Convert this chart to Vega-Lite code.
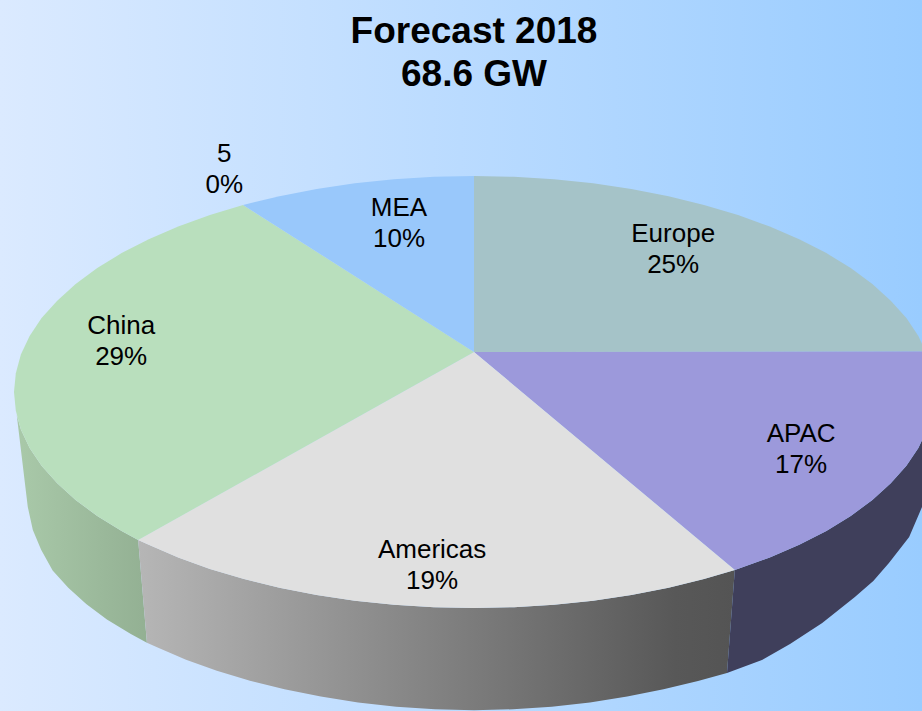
{"$schema":"https://vega.github.io/schema/vega-lite/v6.json","width":922,"height":711,"padding":0,"autosize":{"type":"none"},"background":"#99ccff","view":{"stroke":null},
"title":{"text":["Forecast 2018","68.6 GW"],"font":"Liberation Sans","fontSize":37,"fontWeight":"bold","color":"#000000","anchor":"middle","dx":13,"dy":94,"lineHeight":43,"offset":0},
"datasets":{"outline":[
{"s":"Americas side","i":0,"x":0.567,"y":-0.824},{"s":"Americas side","i":1,"x":0.5,"y":-0.866},{"s":"Americas side","i":2,"x":0.423,"y":-0.906},{"s":"Americas side","i":3,"x":0.342,"y":-0.94},{"s":"Americas side","i":4,"x":0.259,"y":-0.966},{"s":"Americas side","i":5,"x":0.174,"y":-0.985},{"s":"Americas side","i":6,"x":0.087,"y":-0.996},{"s":"Americas side","i":7,"x":0,"y":-1},{"s":"Americas side","i":8,"x":-0.087,"y":-0.996},{"s":"Americas side","i":9,"x":-0.174,"y":-0.985},{"s":"Americas side","i":10,"x":-0.259,"y":-0.966},{"s":"Americas side","i":11,"x":-0.342,"y":-0.94},{"s":"Americas side","i":12,"x":-0.423,"y":-0.906},{"s":"Americas side","i":13,"x":-0.5,"y":-0.866},{"s":"Americas side","i":14,"x":-0.574,"y":-0.819},{"s":"Americas side","i":15,"x":-0.643,"y":-0.766},{"s":"Americas side","i":16,"x":-0.707,"y":-0.707},{"s":"Americas side","i":17,"x":-0.73,"y":-0.685},
{"s":"Americas side","i":18,"x":-0.711,"y":-1.161},{"s":"Americas side","i":19,"x":-0.689,"y":-1.182},{"s":"Americas side","i":20,"x":-0.626,"y":-1.24},{"s":"Americas side","i":21,"x":-0.559,"y":-1.291},{"s":"Americas side","i":22,"x":-0.487,"y":-1.337},{"s":"Americas side","i":23,"x":-0.412,"y":-1.376},{"s":"Americas side","i":24,"x":-0.333,"y":-1.41},{"s":"Americas side","i":25,"x":-0.252,"y":-1.437},{"s":"Americas side","i":26,"x":-0.169,"y":-1.457},{"s":"Americas side","i":27,"x":-0.085,"y":-1.469},{"s":"Americas side","i":28,"x":0,"y":-1.473},{"s":"Americas side","i":29,"x":0.085,"y":-1.469},{"s":"Americas side","i":30,"x":0.169,"y":-1.457},{"s":"Americas side","i":31,"x":0.252,"y":-1.437},{"s":"Americas side","i":32,"x":0.333,"y":-1.41},{"s":"Americas side","i":33,"x":0.412,"y":-1.376},{"s":"Americas side","i":34,"x":0.487,"y":-1.338},{"s":"Americas side","i":35,"x":0.55,"y":-1.301},
{"s":"China side","i":0,"x":-0.73,"y":-0.685},{"s":"China side","i":1,"x":-0.766,"y":-0.643},{"s":"China side","i":2,"x":-0.819,"y":-0.574},{"s":"China side","i":3,"x":-0.866,"y":-0.5},{"s":"China side","i":4,"x":-0.906,"y":-0.423},{"s":"China side","i":5,"x":-0.94,"y":-0.342},{"s":"China side","i":6,"x":-0.966,"y":-0.259},{"s":"China side","i":7,"x":-0.985,"y":-0.174},{"s":"China side","i":8,"x":-0.994,"y":-0.106},
{"s":"China side","i":9,"x":-0.97,"y":-0.532},{"s":"China side","i":10,"x":-0.959,"y":-0.639},{"s":"China side","i":11,"x":-0.941,"y":-0.73},{"s":"China side","i":12,"x":-0.916,"y":-0.827},{"s":"China side","i":13,"x":-0.882,"y":-0.906},{"s":"China side","i":14,"x":-0.843,"y":-0.981},{"s":"China side","i":15,"x":-0.798,"y":-1.053},{"s":"China side","i":16,"x":-0.746,"y":-1.12},{"s":"China side","i":17,"x":-0.711,"y":-1.161},
{"s":"APAC side","i":0,"x":0.567,"y":-0.824},{"s":"APAC side","i":1,"x":0.643,"y":-0.766},{"s":"APAC side","i":2,"x":0.707,"y":-0.707},{"s":"APAC side","i":3,"x":0.766,"y":-0.643},{"s":"APAC side","i":4,"x":0.819,"y":-0.574},{"s":"APAC side","i":5,"x":0.866,"y":-0.5},{"s":"APAC side","i":6,"x":0.906,"y":-0.423},{"s":"APAC side","i":7,"x":0.94,"y":-0.342},{"s":"APAC side","i":8,"x":0.966,"y":-0.259},{"s":"APAC side","i":9,"x":0.985,"y":-0.174},
{"s":"APAC side","i":10,"x":0.974,"y":-0.532},{"s":"APAC side","i":11,"x":0.946,"y":-0.671},{"s":"APAC side","i":12,"x":0.902,"y":-0.792},{"s":"APAC side","i":13,"x":0.868,"y":-0.875},{"s":"APAC side","i":14,"x":0.828,"y":-0.949},{"s":"APAC side","i":15,"x":0.757,"y":-1.069},{"s":"APAC side","i":16,"x":0.687,"y":-1.167},{"s":"APAC side","i":17,"x":0.626,"y":-1.241},{"s":"APAC side","i":18,"x":0.55,"y":-1.301},
{"s":"Europe","i":0,"x":0,"y":0.185},{"s":"Europe","i":1,"x":0,"y":1},{"s":"Europe","i":2,"x":0.087,"y":0.996},{"s":"Europe","i":3,"x":0.174,"y":0.985},{"s":"Europe","i":4,"x":0.259,"y":0.966},{"s":"Europe","i":5,"x":0.342,"y":0.94},{"s":"Europe","i":6,"x":0.423,"y":0.906},{"s":"Europe","i":7,"x":0.5,"y":0.866},{"s":"Europe","i":8,"x":0.574,"y":0.819},{"s":"Europe","i":9,"x":0.643,"y":0.766},{"s":"Europe","i":10,"x":0.707,"y":0.707},{"s":"Europe","i":11,"x":0.766,"y":0.643},{"s":"Europe","i":12,"x":0.819,"y":0.574},{"s":"Europe","i":13,"x":0.866,"y":0.5},{"s":"Europe","i":14,"x":0.906,"y":0.423},{"s":"Europe","i":15,"x":0.94,"y":0.342},{"s":"Europe","i":16,"x":0.966,"y":0.259},{"s":"Europe","i":17,"x":0.982,"y":0.187},
{"s":"APAC","i":0,"x":0,"y":0.185},{"s":"APAC","i":1,"x":0.982,"y":0.187},{"s":"APAC","i":2,"x":0.985,"y":0.174},{"s":"APAC","i":3,"x":0.996,"y":0.087},{"s":"APAC","i":4,"x":1,"y":0},{"s":"APAC","i":5,"x":0.996,"y":-0.087},{"s":"APAC","i":6,"x":0.985,"y":-0.174},{"s":"APAC","i":7,"x":0.966,"y":-0.259},{"s":"APAC","i":8,"x":0.94,"y":-0.342},{"s":"APAC","i":9,"x":0.906,"y":-0.423},{"s":"APAC","i":10,"x":0.866,"y":-0.5},{"s":"APAC","i":11,"x":0.819,"y":-0.574},{"s":"APAC","i":12,"x":0.766,"y":-0.643},{"s":"APAC","i":13,"x":0.707,"y":-0.707},{"s":"APAC","i":14,"x":0.643,"y":-0.766},{"s":"APAC","i":15,"x":0.567,"y":-0.824},
{"s":"Americas","i":0,"x":0,"y":0.185},{"s":"Americas","i":1,"x":0.567,"y":-0.824},{"s":"Americas","i":2,"x":0.5,"y":-0.866},{"s":"Americas","i":3,"x":0.423,"y":-0.906},{"s":"Americas","i":4,"x":0.342,"y":-0.94},{"s":"Americas","i":5,"x":0.259,"y":-0.966},{"s":"Americas","i":6,"x":0.174,"y":-0.985},{"s":"Americas","i":7,"x":0.087,"y":-0.996},{"s":"Americas","i":8,"x":0,"y":-1},{"s":"Americas","i":9,"x":-0.087,"y":-0.996},{"s":"Americas","i":10,"x":-0.174,"y":-0.985},{"s":"Americas","i":11,"x":-0.259,"y":-0.966},{"s":"Americas","i":12,"x":-0.342,"y":-0.94},{"s":"Americas","i":13,"x":-0.423,"y":-0.906},{"s":"Americas","i":14,"x":-0.5,"y":-0.866},{"s":"Americas","i":15,"x":-0.574,"y":-0.819},{"s":"Americas","i":16,"x":-0.643,"y":-0.766},{"s":"Americas","i":17,"x":-0.707,"y":-0.707},{"s":"Americas","i":18,"x":-0.73,"y":-0.685},
{"s":"China","i":0,"x":0,"y":0.185},{"s":"China","i":1,"x":-0.73,"y":-0.685},{"s":"China","i":2,"x":-0.766,"y":-0.643},{"s":"China","i":3,"x":-0.819,"y":-0.574},{"s":"China","i":4,"x":-0.866,"y":-0.5},{"s":"China","i":5,"x":-0.906,"y":-0.423},{"s":"China","i":6,"x":-0.94,"y":-0.342},{"s":"China","i":7,"x":-0.966,"y":-0.259},{"s":"China","i":8,"x":-0.985,"y":-0.174},{"s":"China","i":9,"x":-0.996,"y":-0.087},{"s":"China","i":10,"x":-1,"y":0},{"s":"China","i":11,"x":-0.996,"y":0.087},{"s":"China","i":12,"x":-0.985,"y":0.174},{"s":"China","i":13,"x":-0.966,"y":0.259},{"s":"China","i":14,"x":-0.94,"y":0.342},{"s":"China","i":15,"x":-0.906,"y":0.423},{"s":"China","i":16,"x":-0.866,"y":0.5},{"s":"China","i":17,"x":-0.819,"y":0.574},{"s":"China","i":18,"x":-0.766,"y":0.643},{"s":"China","i":19,"x":-0.707,"y":0.707},{"s":"China","i":20,"x":-0.643,"y":0.766},{"s":"China","i":21,"x":-0.574,"y":0.819},{"s":"China","i":22,"x":-0.502,"y":0.866},
{"s":"MEA","i":0,"x":0,"y":0.185},{"s":"MEA","i":1,"x":-0.502,"y":0.866},{"s":"MEA","i":2,"x":-0.423,"y":0.906},{"s":"MEA","i":3,"x":-0.342,"y":0.94},{"s":"MEA","i":4,"x":-0.259,"y":0.966},{"s":"MEA","i":5,"x":-0.174,"y":0.985},{"s":"MEA","i":6,"x":-0.087,"y":0.996},{"s":"MEA","i":7,"x":0,"y":1}
],
"labels":[{"label":"Europe\n25%","x":0.433,"y":0.662},{"label":"APAC\n17%","x":0.711,"y":-0.264},{"label":"Americas\n19%","x":-0.091,"y":-0.801},{"label":"China\n29%","x":-0.767,"y":0.236},{"label":"MEA\n10%","x":-0.163,"y":0.782},{"label":"5\n0%","x":-0.543,"y":1.032}]},
"encoding":{
"x":{"field":"x","type":"quantitative","axis":null,"scale":{"domain":[-1.0304,0.9739],"nice":false,"zero":false}},
"y":{"field":"y","type":"quantitative","axis":null,"scale":{"domain":[-1.4769,1.8148],"nice":false,"zero":false}}},
"layer":[
{"data":{"values":[{"x":-1.0304,"x2":0.9739,"y":1.8148,"y2":-1.4769}]},"mark":{"type":"rect","color":{"gradient":"linear","x1":0,"x2":1,"y1":0,"y2":0,"stops":[{"offset":0,"color":"#dbeaff"},{"offset":1,"color":"#99ccff"}]}},"encoding":{"x2":{"field":"x2"},"y2":{"field":"y2"}}},
{"data":{"name":"outline"},"transform":[{"filter":"datum.s==='China side'"}],"mark":{"type":"line","clip":true,"strokeWidth":0,"fill":{"gradient":"linear","x1":0,"x2":1,"y1":0,"y2":0,"stops":[{"offset":0,"color":"#a9c9a9"},{"offset":1,"color":"#93b093"}]}},"encoding":{"order":{"field":"i"}}},
{"data":{"name":"outline"},"transform":[{"filter":"datum.s==='Americas side'"}],"mark":{"type":"line","clip":true,"strokeWidth":0,"fill":{"gradient":"linear","x1":0,"x2":1,"y1":0,"y2":0,"stops":[{"offset":0,"color":"#b6b6b6"},{"offset":0.9,"color":"#585858"},{"offset":1,"color":"#545454"}]}},"encoding":{"order":{"field":"i"}}},
{"data":{"name":"outline"},"transform":[{"filter":"datum.s==='APAC side'"}],"mark":{"type":"line","clip":true,"strokeWidth":0,"fill":"#3f3f5b"},"encoding":{"order":{"field":"i"}}},
{"data":{"name":"outline"},"transform":[{"filter":"datum.s==='Europe'"}],"mark":{"type":"line","clip":true,"strokeWidth":0,"fill":"#a5c3c8"},"encoding":{"order":{"field":"i"}}},
{"data":{"name":"outline"},"transform":[{"filter":"datum.s==='APAC'"}],"mark":{"type":"line","clip":true,"strokeWidth":0,"fill":"#9c99db"},"encoding":{"order":{"field":"i"}}},
{"data":{"name":"outline"},"transform":[{"filter":"datum.s==='Americas'"}],"mark":{"type":"line","clip":true,"strokeWidth":0,"fill":"#e0e0e0"},"encoding":{"order":{"field":"i"}}},
{"data":{"name":"outline"},"transform":[{"filter":"datum.s==='China'"}],"mark":{"type":"line","clip":true,"strokeWidth":0,"fill":"#b9dfbd"},"encoding":{"order":{"field":"i"}}},
{"data":{"name":"outline"},"transform":[{"filter":"datum.s==='MEA'"}],"mark":{"type":"line","clip":true,"strokeWidth":0,"fill":"#99c8fb"},"encoding":{"order":{"field":"i"}}},
{"data":{"name":"labels"},"mark":{"type":"text","font":"Liberation Sans","fontSize":26,"color":"#000000","lineBreak":"\n","lineHeight":31,"align":"center","baseline":"middle","dy":-15},"encoding":{"text":{"field":"label"}}}
]}
